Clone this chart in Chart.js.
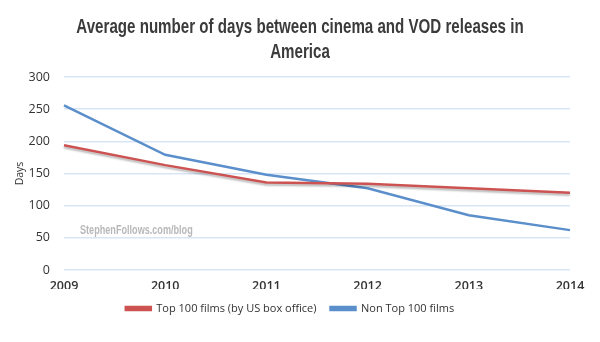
<!DOCTYPE html>
<html><head><meta charset="utf-8">
<script src="https://cdn.jsdelivr.net/npm/chart.js@4/dist/chart.umd.min.js"></script>
<style>html,body{margin:0;padding:0;background:#fff;}#wrap{width:600px;height:342px;position:relative;}</style>
</head><body><div id="wrap"><canvas id="c" width="600" height="342"></canvas></div>
<script>
const years = ['2009','2010','2011','2012','2013','2014'];
const top100 = [194, 163, 136, 134, 127, 120];
const nonTop100 = [256, 179, 148, 127, 85, 62];
const titleLines = ['Average number of days between cinema and VOD releases in', 'America'];
const yTitle = 'Days';
const watermark = 'StephenFollows.com/blog';

// draws condensed text (real canvas text, squeezed horizontally)
function condensedText(ctx, text, x, y, font, color, sx, align) {
  ctx.save();
  ctx.font = font;
  ctx.fillStyle = color;
  ctx.textBaseline = 'middle';
  ctx.textAlign = align;
  ctx.translate(x, y);
  ctx.scale(sx, 1);
  ctx.fillText(text, 0, 0);
  ctx.restore();
}

const decorPlugin = {
  id: 'decor',
  afterDraw(chart) {
    const ctx = chart.ctx;
    const tf = 'bold 21px "Liberation Sans", Arial, sans-serif';
    condensedText(ctx, titleLines[0], 300, 27, tf, '#3b3b3b', 0.72, 'center');
    condensedText(ctx, titleLines[1], 300, 52, tf, '#3b3b3b', 0.72, 'center');
  },
  afterDatasetsDraw(chart) {
    condensedText(chart.ctx, watermark, 80, 230, 'bold 13px "Liberation Sans", Arial, sans-serif', '#b8b8b8', 0.7, 'left');
  },
  beforeDatasetDraw(chart, args) {
    if (args.index === 0) {
      const ctx = chart.ctx;
      ctx.save();
      ctx.shadowColor = 'rgba(0,0,0,0.28)';
      ctx.shadowOffsetY = 2;
      ctx.shadowBlur = 2;
    }
  },
  afterDatasetDraw(chart, args) {
    if (args.index === 0) chart.ctx.restore();
  }
};

new Chart(document.getElementById('c'), {
  type: 'line',
  data: {
    labels: years,
    datasets: [
      { label: 'Top 100 films (by US box office)', data: top100, borderColor: '#cc5352', backgroundColor: '#cc5352', borderWidth: 2.5, pointRadius: 0, tension: 0 },
      { label: 'Non Top 100 films', data: nonTop100, borderColor: '#5b8fcb', backgroundColor: '#5b8fcb', borderWidth: 2.5, pointRadius: 0, tension: 0 }
    ]
  },
  plugins: [decorPlugin],
  options: {
    responsive: false,
    animation: false,
    layout: { padding: { left: 10, right: 30, top: 77, bottom: 18 } },
    plugins: {
      title: { display: false },
      legend: { position: 'bottom', labels: { boxWidth: 25, boxHeight: 3, color: '#333', padding: 14, font: { family: '"Open Sans", sans-serif', size: 11 } } },
      tooltip: { enabled: false }
    },
    scales: {
      x: {
        grid: { display: false, drawTicks: false },
        border: { display: false },
        ticks: { color: '#333', padding: 9, maxRotation: 0, font: { family: '"Open Sans", sans-serif', size: 12.5, weight: '600' } },
        afterFit(s) { s.height = s.height - 14; }
      },
      y: {
        min: 0, max: 300,
        grid: { color: '#d7e5f6', lineWidth: 1.5, drawTicks: false },
        border: { display: false },
        ticks: { stepSize: 50, color: '#333', padding: 14, font: { family: '"Open Sans", sans-serif', size: 12.5 } },
        title: { display: true, text: yTitle, color: '#333', font: { family: '"Open Sans", sans-serif', size: 10.5 }, padding: { bottom: 0 } },
        afterFit(s) { s.width = 54; }
      }
    }
  }
});
</script></body></html>
